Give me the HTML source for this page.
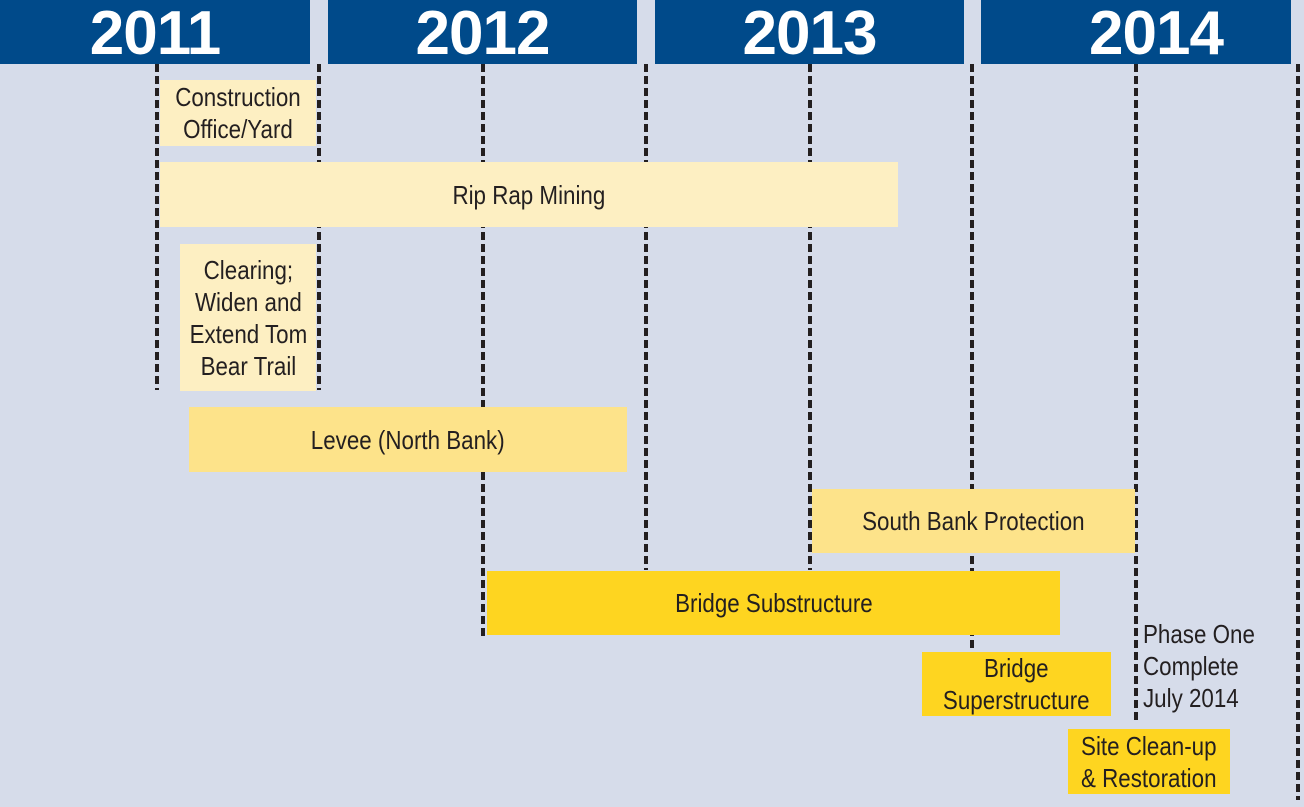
<!DOCTYPE html>
<html><head><meta charset="utf-8"><style>
html,body{margin:0;width:1304px;height:807px;overflow:hidden}
body{background:#d6dcea;position:relative;font-family:"Liberation Sans",sans-serif;color:#231f20}
.h{position:absolute;top:0;height:64px;background:#004a8a;color:#fff;font-weight:bold;font-size:62px;line-height:68px;text-align:center;letter-spacing:-1px}
.v{position:absolute;top:64px;width:4px;background:repeating-linear-gradient(to bottom,#231f20 0 8px,transparent 8px 12px)}
.b{position:absolute;display:flex;align-items:center;justify-content:center;text-align:center;font-size:26px;line-height:32px;white-space:nowrap}
.b span,.t span{display:inline-block;transform:scaleX(0.86)}
.c1{background:#fdefc2}.c2{background:#fde38a}.c3{background:#fed520}
.t{position:absolute;font-size:26px;line-height:32px;white-space:nowrap}
.t span{transform-origin:left center}
</style></head><body>
<div class="h" style="left:0;width:310px">2011</div>
<div class="h" style="left:328px;width:309px">2012</div>
<div class="h" style="left:655px;width:309px">2013</div>
<div class="h" style="left:981px;width:310px;padding-left:40px;box-sizing:border-box">2014</div>
<div class="v" style="left:155px;height:326px"></div>
<div class="v" style="left:317px;height:326px"></div>
<div class="v" style="left:481px;height:572px"></div>
<div class="v" style="left:644px;height:506px"></div>
<div class="v" style="left:808px;height:506px"></div>
<div class="v" style="left:970px;height:586px"></div>
<div class="v" style="left:1134px;height:656px"></div>
<div class="v" style="left:1296px;height:736px"></div>
<div class="b c1" style="left:160px;top:80px;width:156px;height:66px"><span>Construction<br>Office/Yard</span></div>
<div class="b c1" style="left:160px;top:162px;width:738px;height:65px"><span>Rip Rap Mining</span></div>
<div class="b c1" style="left:180px;top:244px;width:136px;height:147px"><span>Clearing;<br>Widen and<br>Extend Tom<br>Bear Trail</span></div>
<div class="b c2" style="left:189px;top:407px;width:438px;height:65px"><span>Levee (North Bank)</span></div>
<div class="b c2" style="left:812px;top:489px;width:323px;height:64px"><span>South Bank Protection</span></div>
<div class="b c3" style="left:487px;top:571px;width:573px;height:64px"><span>Bridge Substructure</span></div>
<div class="b c3" style="left:922px;top:652px;width:189px;height:64px"><span>Bridge<br>Superstructure</span></div>
<div class="b c3" style="left:1068px;top:729px;width:162px;height:65px"><span>Site Clean-up<br>&amp; Restoration</span></div>
<div class="t" style="left:1143px;top:618px"><span>Phase One<br>Complete<br>July 2014</span></div>
</body></html>
